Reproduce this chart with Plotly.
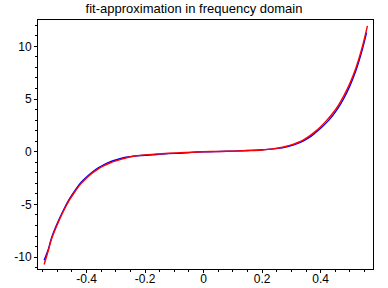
import plotly.graph_objects as go

# frequency axis samples
x_fit = [-0.545, -0.53, -0.52, -0.50, -0.48, -0.46, -0.44, -0.42, -0.40, -0.38, -0.36,
         -0.34, -0.32, -0.30, -0.28, -0.26, -0.24, -0.22, -0.20, -0.16, -0.12, -0.08,
         -0.04, 0.0, 0.04, 0.08, 0.12, 0.16, 0.20, 0.22, 0.24, 0.26, 0.28, 0.30, 0.32,
         0.34, 0.36, 0.38, 0.40, 0.42, 0.44, 0.46, 0.48, 0.50, 0.52, 0.54, 0.56]
y_fit = [-10.7, -9.3, -8.3, -6.9, -5.7, -4.65, -3.8, -3.05, -2.5, -2.02, -1.63,
         -1.32, -1.07, -0.87, -0.7, -0.55, -0.43, -0.36, -0.3, -0.22, -0.15, -0.1,
         -0.05, 0.0, 0.02, 0.04, 0.07, 0.11, 0.17, 0.22, 0.29, 0.38, 0.5, 0.65, 0.85,
         1.1, 1.45, 1.88, 2.38, 2.95, 3.6, 4.38, 5.35, 6.5, 7.9, 9.7, 11.95]

x_data = [-0.545, -0.53, -0.52, -0.50, -0.48, -0.46, -0.44, -0.42, -0.40, -0.38, -0.36,
          -0.34, -0.32, -0.30, -0.28, -0.26, -0.24, -0.22, -0.20, -0.16, -0.12, -0.08,
          -0.04, 0.0, 0.04, 0.08, 0.12, 0.16, 0.20, 0.22, 0.24, 0.26, 0.28, 0.30, 0.32,
          0.34, 0.36, 0.38, 0.40, 0.42, 0.44, 0.46, 0.48, 0.50, 0.52, 0.54, 0.557]
y_data = [-10.3, -9.2, -8.2, -6.8, -5.6, -4.55, -3.7, -2.95, -2.4, -1.92, -1.53,
          -1.22, -0.97, -0.78, -0.62, -0.5, -0.42, -0.37, -0.33, -0.27, -0.18, -0.14,
          -0.06, -0.01, 0.01, 0.04, 0.08, 0.13, 0.18, 0.22, 0.27, 0.34, 0.45, 0.59, 0.77,
          1.01, 1.33, 1.75, 2.22, 2.76, 3.38, 4.15, 5.1, 6.25, 7.65, 9.45, 11.3]

x_ticks = [-0.4, -0.2, 0, 0.2, 0.4]
x_ticktext = ["-0.4", "-0.2", "0", "0.2", "0.4"]
y_ticks = [-10, -5, 0, 5, 10]
y_ticktext = ["-10", "-5", "0", "5", "10"]

title_text = "fit-approximation in frequency domain"

font_family = "Liberation Sans, Arial, sans-serif"

fig = go.Figure()
fig.add_trace(go.Scatter(x=x_data, y=y_data, mode="lines",
                         line=dict(color="#0000ff", width=1.4, shape="spline"),
                         showlegend=False, hoverinfo="skip"))
fig.add_trace(go.Scatter(x=x_fit, y=y_fit, mode="lines",
                         line=dict(color="#ff0000", width=1.4, shape="spline"),
                         showlegend=False, hoverinfo="skip"))

fig.update_layout(
    width=388, height=288,
    margin=dict(l=38, r=15, t=20, b=19, pad=0, autoexpand=False),
    paper_bgcolor="white", plot_bgcolor="white",
    font=dict(family=font_family, size=12, color="black"),
    title=dict(text=title_text, x=0.5, xref="container", xanchor="center",
               y=1 - 8 / 288, yref="container", yanchor="middle",
               font=dict(family=font_family, size=13, color="black")),
)
fig.update_xaxes(
    range=[-0.566, 0.579], showgrid=False, zeroline=False, automargin=False,
    showline=True, linecolor="black", linewidth=1, mirror=True,
    tickmode="array", tickvals=x_ticks, ticktext=x_ticktext,
    ticks="outside", ticklen=3, tickwidth=1, tickcolor="black",
    ticklabelstandoff=-4,
    minor=dict(ticks="outside", ticklen=2, dtick=0.05, tick0=0, tickcolor="black", showgrid=False),
    tickfont=dict(family=font_family, size=12, color="black"),
)
fig.update_yaxes(
    range=[-11.13, 12.5], showgrid=False, zeroline=False, automargin=False,
    showline=True, linecolor="black", linewidth=1, mirror=True,
    tickmode="array", tickvals=y_ticks, ticktext=y_ticktext,
    ticks="outside", ticklen=3, tickwidth=1, tickcolor="black",
    minor=dict(ticks="outside", ticklen=2, dtick=1, tick0=0, tickcolor="black", showgrid=False),
    tickfont=dict(family=font_family, size=12, color="black"),
)

fig.write_html("out.html")
